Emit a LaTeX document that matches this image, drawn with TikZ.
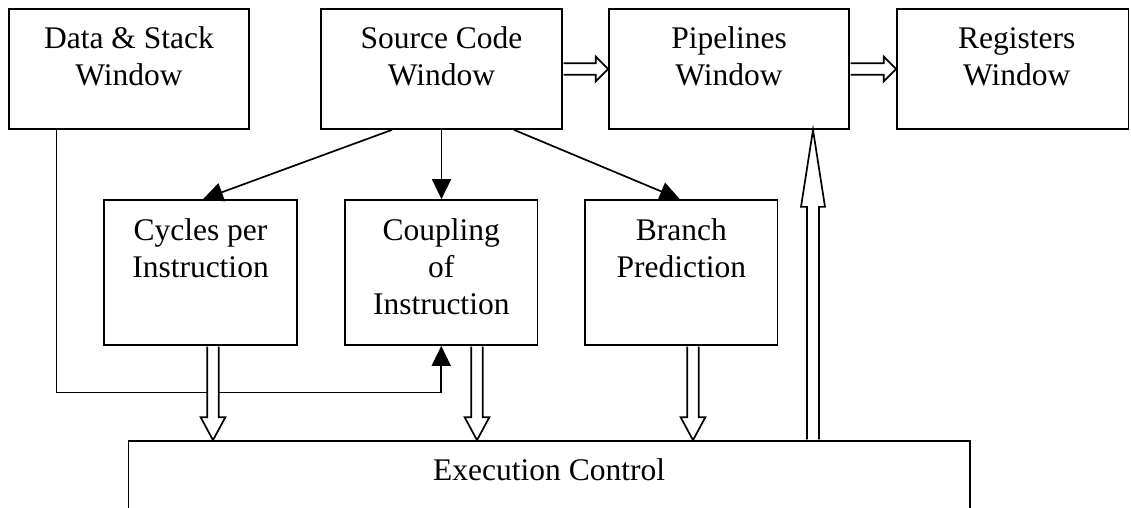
\documentclass[tikz,border=0pt]{standalone}
\usepackage{fontspec}
\setmainfont{Liberation Serif}
\usetikzlibrary{arrows.meta,calc}
\newcommand{\holdown}[2]{\path[hol] let \p1=(#1), \p2=(#2) in
  (\x1-5.8pt,\y1-0.85pt) -- (\x1-5.8pt,\y2+23pt) -- (\x1-12.4pt,\y2+23pt) -- (\x1,\y2)
  -- (\x1+12.4pt,\y2+23pt) -- (\x1+5.8pt,\y2+23pt) -- (\x1+5.8pt,\y1-0.85pt);}
\newcommand{\holup}[2]{\path[hol] let \p1=(#1), \p2=(#2) in
  (\x1-6pt,\y2+0.85pt) -- (\x1-6pt,\y1-77pt) -- (\x1-12pt,\y1-77pt) -- (\x1,\y1)
  -- (\x1+12pt,\y1-77pt) -- (\x1+6pt,\y1-77pt) -- (\x1+6pt,\y2+0.85pt);}
\newcommand{\holright}[2]{\path[hol] let \p1=(#1), \p2=(#2) in
  (\x1+0.85pt,\y1+5.8pt) -- (\x2-12.5pt,\y1+5.8pt) -- (\x2-12.5pt,\y1+12.5pt) -- (\x2,\y1)
  -- (\x2-12.5pt,\y1-12.5pt) -- (\x2-12.5pt,\y1-5.8pt) -- (\x1+0.85pt,\y1-5.8pt);}
\begin{document}
\begin{tikzpicture}[x=1pt,y=-1pt,
  box/.style={draw, line width=1.7pt, inner sep=0pt, fill=white},
  lbl/.style={font=\fontsize{31.5}{37}\selectfont, align=center, inner sep=0pt, anchor=north},
  arr/.style={line width=1.7pt, -{Triangle[length=20pt,width=19pt]}},
  hol/.style={draw, line width=1.7pt, fill=white, line join=miter}]
\useasboundingbox (0,0) rectangle (1131,508);
\clip (0,0) rectangle (1131,508);
\fill[white] (0,0) rectangle (1131,508);
% top row
\node[box, minimum width=240pt, minimum height=120pt] (ds) at (129,69) {};
\node[box, minimum width=241pt, minimum height=120pt] (sc) at (441.5,69) {};
\node[box, minimum width=240pt, minimum height=120pt] (pl) at (729,69) {};
\node[box, minimum width=231.5pt, minimum height=120pt] (rg) at (1012.75,69) {};
% middle row
\node[box, minimum width=193pt, minimum height=145pt] (cpi) at (200.5,272.5) {};
\node[box, minimum width=192.5pt, minimum height=145pt] (cpl) at (441.25,272.5) {};
\node[box, minimum width=192.5pt, minimum height=145pt] (br) at (681.25,272.5) {};
% bottom
\node[box, minimum width=841.1pt, minimum height=100pt] (exec) at (549.15,491) {};
% labels
\node[lbl] (dsl) at ($(ds.north)+(0,18.5)$) {Data \& Stack\\Window};
\node[lbl] (scl) at ($(sc.north)+(0,18.5)$) {Source Code\\Window};
\node[lbl] (pll) at ($(pl.north)+(0,18.5)$) {Pipelines\\Window};
\node[lbl] (rgl) at ($(rg.north)+(4,19)$) {Registers\\Window};
\node[lbl] (cpil) at ($(cpi.north)+(0,19)$) {Cycles per\\Instruction};
\node[lbl] (cpll) at ($(cpl.north)+(0,19)$) {Coupling\\of\\Instruction};
\node[lbl] (brl) at ($(br.north)+(0,19)$) {Branch\\Prediction};
\node[lbl, anchor=base] (execl) at (549.15,480) {Execution Control};
% thin arrows
\draw[arr] ($(sc.south)+(-49.5,0)$) -- ($(cpi.north)+(2.5,0)$);
\draw[arr] (sc.south) -- (sc.south |- cpl.north);
\draw[arr] ($(sc.south)+(72.5,0)$) -- ($(br.north)+(-1.5,0)$);
\coordinate (dsturn) at (56.4,392.5);
\draw[arr] (ds.south -| dsturn) -- (dsturn) -| (cpl.south);
% hollow arrows
\holdown{$(cpi.south)+(12.5,0)$}{exec.north}
\holdown{$(cpl.south)+(35.75,0)$}{exec.north}
\holdown{$(br.south)+(11.75,0)$}{exec.north}
\holup{$(pl.south)+(84,0)$}{exec.north}
\holright{sc.east}{pl.west}
\holright{pl.east}{rg.west}
\end{tikzpicture}
\end{document}
